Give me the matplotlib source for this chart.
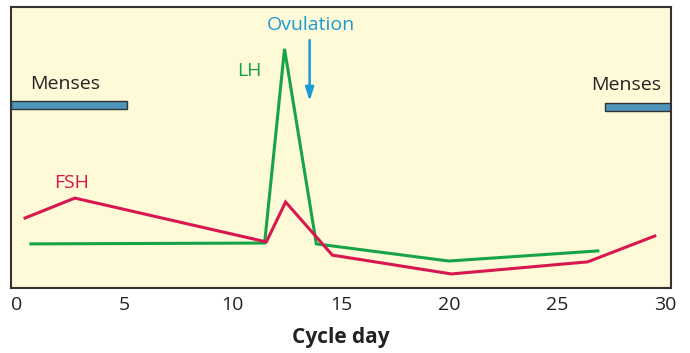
import matplotlib.pyplot as plt
import numpy as np

plt.rcParams['font.family'] = ['Open Sans', 'DejaVu Sans']

# hormone levels (arbitrary units, 0-100 scale)
lh_day = [0.67, 11.47, 12.39, 13.86, 19.98, 26.87]
lh_val = [15.7, 16.0, 85.1, 15.7, 9.6, 13.2]

fsh_day = [0.4, 2.7, 11.55, 12.44, 14.6, 20.1, 26.4, 29.5]
fsh_val = [24.9, 32.0, 16.4, 30.6, 11.7, 5.0, 9.3, 18.5]

# menses periods (start day, end day, level)
menses = [(-0.25, 5.1, 65.1), (27.2, 30.25, 64.4)]
ovulation_day = 13.55

xticks = [0, 5, 10, 15, 20, 25, 30]

fig = plt.figure(figsize=(6.9, 3.53), dpi=100)
ax = fig.add_axes([11 / 690, 65 / 353, 660 / 690, 281 / 353])
ax.set_facecolor('#fef9d6')

green = '#17a348'
red = '#d8174e'
blue = '#1a9ad6'

ax.plot(lh_day, lh_val, color=green, lw=2.2, solid_joinstyle='miter')
ax.plot(fsh_day, fsh_val, color=red, lw=2.2, solid_joinstyle='miter')

for start, end, level in menses:
    ax.barh(level, end - start, left=start, height=2.6,
            color='#4d95bb', edgecolor='#333333', lw=1.0)

ax.text(0.65, 69.3, 'Menses', fontsize=14, color='#222222', ha='left', va='bottom')
ax.text(29.8, 69.0, 'Menses', fontsize=14, color='#222222', ha='right', va='bottom')
ax.text(10.2, 74.0, 'LH', fontsize=14, color=green, ha='left', va='bottom')
ax.text(1.75, 34.0, 'FSH', fontsize=14, color=red, ha='left', va='bottom')
ax.text(13.6, 90.4, 'Ovulation', fontsize=14, color=blue, ha='center', va='bottom')
ax.annotate('', xy=(ovulation_day, 65.5), xytext=(ovulation_day, 89.2),
            arrowprops=dict(arrowstyle='-|>,head_width=0.25,head_length=0.8',
                            color=blue, lw=1.8))

ax.set_xlim(-0.25, 30.25)
ax.set_ylim(0, 100)
ax.set_xticks(xticks)
ax.set_xticklabels([str(t) for t in xticks], fontsize=14, color='#222222')
ax.tick_params(axis='x', length=0, pad=6)
ax.set_yticks([])
ax.set_xlabel('Cycle day', fontsize=15, fontweight='bold', color='#222222', labelpad=9)
for s in ax.spines.values():
    s.set_color('#333333')
    s.set_linewidth(1.5)

fig.savefig('out.png', dpi=100)
